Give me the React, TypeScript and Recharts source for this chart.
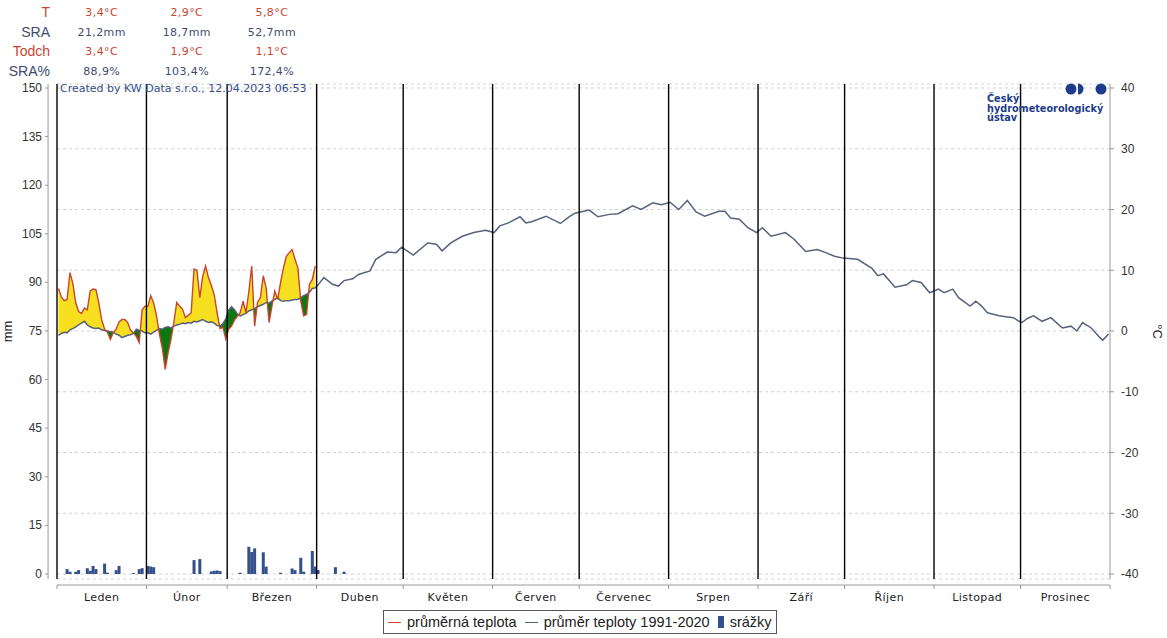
import React from 'react';
import {
    ComposedChart,
    Line,
    Area,
    Bar,
    XAxis,
    YAxis,
    CartesianGrid,
    ReferenceLine
} from 'recharts';

const SANS = '"Liberation Sans", Arial, sans-serif';
const DEJAVU = '"DejaVu Sans", Verdana, sans-serif';

const monthNames = ['Leden', 'Únor', 'Březen', 'Duben', 'Květen', 'Červen', 'Červenec', 'Srpen', 'Září', 'Říjen', 'Listopad', 'Prosinec'];
const monthStarts = [0, 31, 59, 90, 120, 151, 181, 212, 243, 273, 304, 334];
const mmTicks = [0, 15, 30, 45, 60, 75, 90, 105, 120, 135, 150];
const tempTicks = [-40, -30, -20, -10, 0, 10, 20, 30, 40];

// průměrná denní teplota 2023, 1.1. - 31.3.
const actualTemp = [
    7.0, 5.6, 5.0, 5.2, 9.6, 7.8, 4.6, 3.2, 2.9, 3.8, 3.5, 6.6, 6.9, 6.8, 4.6, 1.8, 0.3, -0.2, -1.4, -0.3, 0.3, 1.5, 1.9, 1.9, 1.4, 0.1, -0.3, -0.9, -1.9, 3.5, 4.1,
    4.1, 5.8, 4.6, 2.5, -0.5, -2.8, -6.3, -3.6, -1.4, 1.4, 4.7, 4.1, 3.6, 2.2, 2.6, 3.0, 10.2, 10.0, 5.5, 9.0, 10.7, 8.8, 7.5, 6.0, 3.0, 0.4, 0.6, -1.3,
    0.3, 0.8, 1.8, 2.4, 3.0, 4.9, 3.0, 6.5, 10.7, 0.8, 4.7, 5.5, 9.1, 7.1, 1.4, 4.1, 6.6, 5.2, 8.0, 10.4, 12.3, 12.9, 13.4, 11.8, 10.4, 4.9, 2.5, 2.7, 7.7, 8.5, 10.7
];

// normál 1991-2020, denně pro 1.1. - 31.3.
const normalDaily = [
    -0.7, -0.4, -0.2, -0.3, 0.2, 0.4, 0.7, 1.0, 1.3, 1.6, 1.0, 0.7, 0.5, 0.4, 0.5, 0.2, 0.1, 0.0, -0.1, -0.2, -0.5, -0.7, -1.1, -0.9, -0.7, -0.6, -0.4, 0.3, 0.1, 0.0, -0.3,
    -0.3, -0.5, -0.2, 0.1, 0.4, 0.3, 0.6, 0.7, 0.5, 0.8, 1.0, 1.1, 1.3, 1.2, 1.4, 1.3, 1.6, 1.5, 1.7, 1.9, 1.6, 1.4, 1.5, 1.3, 0.9, 0.8, 1.2, 2.0,
    3.4, 4.0, 3.5, 2.8, 2.5, 2.7, 2.9, 3.3, 3.5, 3.7, 4.0, 4.2, 4.4, 4.7, 4.6, 4.9, 5.2, 5.5, 5.0, 4.9, 5.0, 5.0, 5.1, 5.2, 5.2, 5.5, 5.8, 6.0, 6.4, 7.0, 7.1
];

// normál 1991-2020 od dubna (den v roce, °C)
const normalDays = [
    91, 93, 96, 98, 100, 103, 105, 109, 111, 115, 118, 120, 124, 129, 132, 134, 137, 141, 145, 149, 152, 154, 157, 161, 163, 165, 170, 175, 178, 180,
    185, 188, 192, 195, 200, 203, 207, 210, 213, 216, 219, 222, 225, 230, 232, 234, 237, 240, 243, 245, 248, 253, 256, 260, 264, 267, 270, 273, 278,
    283, 285, 287, 291, 295, 297, 300, 303, 306, 308, 311, 313, 317, 319, 321, 323, 327, 332, 334, 335, 337, 339, 342, 345, 349, 352, 354, 356, 359, 362, 363, 365
];
const normalVals = [
    7.6, 8.8, 7.7, 7.4, 8.3, 8.6, 9.3, 9.9, 11.8, 13.0, 12.9, 13.8, 12.5, 14.5, 14.3, 13.2, 14.5, 15.6, 16.2, 16.6, 16.2, 17.3, 17.8, 18.8, 17.8, 18.0, 18.9, 17.7, 18.8, 19.4,
    19.9, 18.8, 19.2, 19.3, 20.6, 20.0, 21.1, 20.8, 21.2, 20.0, 21.5, 19.6, 18.9, 19.7, 19.7, 18.6, 18.4, 17.0, 16.2, 17.0, 15.6, 16.2, 15.1, 13.1, 13.4, 12.9, 12.3, 12.0, 11.8,
    10.3, 9.1, 9.4, 7.2, 7.6, 8.3, 8.0, 6.3, 6.9, 6.3, 6.9, 5.5, 4.1, 4.9, 4.1, 3.0, 2.5, 2.2, 1.6, 1.4, 2.1, 2.5, 1.6, 2.2, 0.5, 0.8, 0.0, 1.4, 0.5, -1.1, -1.5, -0.5
];

// srážky (den v roce, mm)
const rainDays = [4, 5, 7, 8, 11, 12, 13, 14, 17, 18, 21, 22, 27, 29, 30, 32, 33, 34, 48, 50, 54, 55, 56, 57, 64, 67, 68, 69, 72, 73, 78, 82, 83, 85, 86, 89, 90, 91, 97, 100];
const rainMm = [1.5, 0.7, 0.7, 1.2, 1.8, 1.0, 2.5, 1.5, 3.2, 0.4, 1.2, 2.5, 0.3, 1.5, 1.8, 2.5, 2.3, 2.1, 4.3, 4.6, 0.8, 1.0, 1.1, 0.9, 0.4, 8.4, 6.8, 7.9, 6.7, 2.3, 0.4, 1.7, 1.2, 5.0, 0.7, 7.1, 2.3, 1.2, 2.1, 0.7];

// souhrn za leden, únor, březen
const summaryLabels = ['T', 'SRA', 'Todch', 'SRA%'];
const tRow = ['3,4°C', '2,9°C', '5,8°C'];
const sraRow = ['21,2mm', '18,7mm', '52,7mm'];
const todchRow = ['3,4°C', '1,9°C', '1,1°C'];
const sraPctRow = ['88,9%', '103,4%', '172,4%'];

const RED = '#c8452f';
const SLATE = '#56627e';
const NAVY = '#34508c';
const PLOT_LEFT = 57;
const PLOT_RIGHT = 1110;
const PX_DAY = (PLOT_RIGHT - PLOT_LEFT) / 365;

type Row = { x: number; normal?: number; actual?: number; warm?: number[]; cold?: number[]; rain?: number };

function buildRows(): Row[] {
    const map = new Map<number, Row>();
    const get = (x: number) => {
        let r = map.get(x);
        if (!r) { r = { x }; map.set(x, r); }
        return r;
    };
    actualTemp.forEach((v, i) => {
        const r = get(i + 0.5);
        r.actual = v;
        r.normal = normalDaily[i];
    });
    // where the two lines cross, so the fills meet cleanly
    for (let i = 0; i < actualTemp.length - 1; i++) {
        const d1 = actualTemp[i] - normalDaily[i];
        const d2 = actualTemp[i + 1] - normalDaily[i + 1];
        if (d1 * d2 < 0) {
            const t = d1 / (d1 - d2);
            const v = normalDaily[i] + t * (normalDaily[i + 1] - normalDaily[i]);
            const r = get(i + 0.5 + t);
            r.actual = v;
            r.normal = v;
        }
    }
    normalDays.forEach((d, i) => { get(d - 0.5).normal = normalVals[i]; });
    rainDays.forEach((d, i) => { get(d - 0.5).rain = rainMm[i]; });
    const rows = [...map.values()].sort((a, b) => a.x - b.x);
    rows.forEach(r => {
        if (r.actual !== undefined && r.normal !== undefined) {
            r.warm = [r.normal, Math.max(r.actual, r.normal)];
            r.cold = [Math.min(r.actual, r.normal), r.normal];
        }
    });
    return rows;
}

const rows = buildRows();

function MonthTick({ x, y, payload }: any) {
    const i = monthStarts.indexOf(payload.value);
    const end = i < 11 ? monthStarts[i + 1] : 365;
    const w = (end - payload.value) * PX_DAY;
    return (
        <g>
            <line x1={x} x2={x + w} y1={y + 6} y2={y + 6} stroke="#999" />
            <line x1={x} x2={x} y1={y + 6} y2={y + 10} stroke="#999" />
            {i === 11 && <line x1={x + w} x2={x + w} y1={y + 6} y2={y + 10} stroke="#999" />}
            <text x={x + w / 2} y={y + 22} textAnchor="middle" fontSize={11} fill="#222" fontFamily={DEJAVU} letterSpacing={0.4}>
                {monthNames[i]}
            </text>
        </g>
    );
}

function MmTick({ x, y, payload }: any) {
    return (
        <g>
            <line x1={x - 12} x2={x - 9} y1={y} y2={y} stroke="#999" />
            <text x={x - 15} y={y} dy={4} textAnchor="end" fontSize={12} fill="#333" fontFamily={SANS}>
                {payload.value}
            </text>
        </g>
    );
}

// daily rain bar, kept 3 px wide around the day position
function RainBar({ x, y, width, height }: any) {
    if (!height || height <= 0) return null;
    return <rect x={x + width / 2 - 1.5} y={y} width={3} height={height} fill={NAVY} />;
}

export default function App() {
    const summary = [tRow, sraRow, todchRow, sraPctRow];
    const colCenters = [15.5, 45, 74.5].map(d => PLOT_LEFT + d * PX_DAY);
    return (
        <div style={{ position: 'relative', width: 1167, height: 638, background: '#fff', overflow: 'hidden' }}>
            <style>{'body{margin:0}'}</style>
            <ComposedChart
                width={1167}
                height={638}
                data={rows}
                margin={{ top: 84, right: 0, bottom: 29, left: 0 }}
            >
                <CartesianGrid yAxisId="t" vertical={false} stroke="#d2d2d2" strokeDasharray="3 3" />
                <XAxis
                    dataKey="x"
                    type="number"
                    domain={[0, 365]}
                    ticks={monthStarts}
                    interval={0}
                    allowDataOverflow
                    axisLine={false}
                    tickLine={false}
                    tickSize={0}
                    tickMargin={0}
                    height={30}
                    tick={<MonthTick />}
                />
                <YAxis
                    yAxisId="mm"
                    orientation="left"
                    width={57}
                    domain={[-1.54, 151.23]}
                    ticks={mmTicks}
                    allowDataOverflow
                    axisLine={false}
                    tickLine={false}
                    tickSize={0}
                    tickMargin={0}
                    tick={<MmTick />}
                    label={{
                        content: ({ viewBox }: any) => (
                            <text
                                x={viewBox.x + 12}
                                y={viewBox.y + viewBox.height / 2}
                                transform={`rotate(-90, ${viewBox.x + 12}, ${viewBox.y + viewBox.height / 2})`}
                                textAnchor="middle"
                                fontSize={13}
                                fill="#222"
                                fontFamily={SANS}
                            >mm</text>
                        )
                    }}
                />
                <YAxis
                    yAxisId="t"
                    orientation="right"
                    width={57}
                    domain={[-40.82, 40.66]}
                    ticks={tempTicks}
                    allowDataOverflow
                    axisLine={{ stroke: '#999' }}
                    tickLine={{ stroke: '#999' }}
                    tickSize={4}
                    tickMargin={7}
                    tick={{ fontSize: 12, fill: '#333', fontFamily: SANS }}
                    label={{
                        content: ({ viewBox }: any) => (
                            <text
                                x={viewBox.x + 43}
                                y={viewBox.y + viewBox.height / 2}
                                transform={`rotate(90, ${viewBox.x + 43}, ${viewBox.y + viewBox.height / 2})`}
                                textAnchor="middle"
                                fontSize={13}
                                fill="#222"
                                fontFamily={SANS}
                            >°C</text>
                        )
                    }}
                />
                <Bar yAxisId="mm" dataKey="rain" fill={NAVY} shape={<RainBar />} isAnimationActive={false} />
                <Area yAxisId="t" type="linear" dataKey="warm" fill="#f6df1e" fillOpacity={1} stroke="none" dot={false} activeDot={false} isAnimationActive={false} />
                <Area yAxisId="t" type="linear" dataKey="cold" fill="#0d780f" fillOpacity={1} stroke="none" dot={false} activeDot={false} isAnimationActive={false} />
                <Line yAxisId="t" type="linear" dataKey="normal" stroke={SLATE} strokeWidth={1.5} dot={false} activeDot={false} connectNulls isAnimationActive={false} />
                <Line yAxisId="t" type="linear" dataKey="actual" stroke={RED} strokeWidth={1.4} dot={false} activeDot={false} isAnimationActive={false} />
                {monthStarts.map(m => (
                    <ReferenceLine key={m} yAxisId="t" x={m} stroke="#000" strokeWidth={1.4} />
                ))}
                <ReferenceLine yAxisId="t" x={-3.1} stroke="#999" ifOverflow="visible" />
            </ComposedChart>

            {summaryLabels.map((lab, r) => (
                <div key={lab}>
                    <div style={{
                        position: 'absolute', left: 0, width: 50, top: 3 + r * 19.6, textAlign: 'right',
                        fontFamily: SANS, fontSize: 14, color: r % 2 === 0 ? RED : '#3d4c70', lineHeight: '18px'
                    }}>{lab}</div>
                    {summary[r].map((v, c) => (
                        <div key={c} style={{
                            position: 'absolute', left: colCenters[c] - 50, width: 100, top: 4 + r * 19.6, textAlign: 'center',
                            fontFamily: DEJAVU, fontSize: 11, letterSpacing: 0.4, color: r % 2 === 0 ? RED : '#3d4c70', lineHeight: '18px'
                        }}>{v}</div>
                    ))}
                </div>
            ))}

            <div style={{
                position: 'absolute', left: 60, top: 82, fontFamily: DEJAVU, fontSize: 11,
                color: '#35508a', lineHeight: '13px', whiteSpace: 'nowrap'
            }}>Created by KW Data s.r.o., 12.04.2023 06:53</div>

            <svg style={{ position: 'absolute', left: 1060, top: 80 }} width={52} height={18}>
                <circle cx={11} cy={9} r={5.5} fill="#1d3c8c" />
                <path d="M18,3.5 A5.5,5.5 0 0,1 18,14.5 Z" fill="#1d3c8c" />
                <circle cx={41} cy={9} r={5.5} fill="#1d3c8c" />
            </svg>
            <div style={{
                position: 'absolute', left: 987, top: 94, fontFamily: DEJAVU, fontSize: 9.7, fontWeight: 'bold',
                color: '#1d3c8c', lineHeight: '9.5px'
            }}>
                <div>Český</div>
                <div>hydrometeorologický</div>
                <div>ústav</div>
            </div>

            <div style={{
                position: 'absolute', left: 383, top: 610, height: 22, padding: '0 4px', border: '1px solid #555',
                display: 'flex', alignItems: 'center', gap: 6, fontFamily: SANS, fontSize: 14.5, color: '#222', whiteSpace: 'nowrap'
            }}>
                <span style={{ display: 'inline-block', width: 13, height: 0, borderTop: `1.5px solid ${RED}` }} />
                <span>průměrná teplota</span>
                <span style={{ display: 'inline-block', width: 13, height: 0, borderTop: `1.5px solid ${SLATE}`, marginLeft: 2 }} />
                <span>průměr teploty 1991-2020</span>
                <span style={{ display: 'inline-block', width: 6, height: 12, background: NAVY, marginLeft: 2 }} />
                <span>srážky</span>
            </div>
        </div>
    );
}
